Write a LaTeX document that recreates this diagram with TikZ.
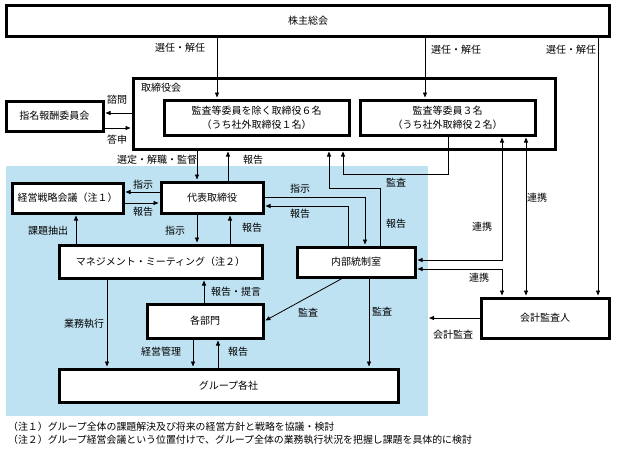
\documentclass[tikz,border=0pt]{standalone}
\usepackage{fontspec}
\newfontfamily\jp{Noto Sans CJK JP}
\usetikzlibrary{arrows.meta}
\definecolor{bgblue}{RGB}{190,226,242}
\begin{document}
\begin{tikzpicture}[x=1pt,y=-1pt,
  box/.style={draw, line width=3pt, fill=white, inner sep=0pt, font=\jp\fontsize{10}{14}\selectfont, align=center},
  lab/.style={inner sep=0pt, font=\jp\fontsize{10}{12}\selectfont},
  foot/.style={inner sep=0pt, anchor=west, font=\jp\fontsize{9.9}{11}\selectfont},
  conn/.style={line width=0.8pt},
  arr/.style={conn, -{Triangle[length=5pt,width=4pt]}, shorten >=1pt},
  darr/.style={conn, {Triangle[length=5pt,width=4pt]}-{Triangle[length=5pt,width=4pt]}, shorten >=1pt, shorten <=1pt},
]
\useasboundingbox (0,0) rectangle (618,451);
\fill[bgblue] (6,166) rectangle (428,416);

% boxes
\node[box, minimum width=603pt, minimum height=31pt] (kabu) at (308,21) {株主総会};
\node[box, minimum width=422pt, minimum height=71pt] (tori) at (344,113.5) {};
\node[lab] (ltori) at (161,88) {取締役会};
\node[box, minimum width=185pt, minimum height=35pt] (nozoku) at (256.5,117.5) {監査等委員を除く取締役６名\\（うち社外取締役１名）};
\node[box, minimum width=175pt, minimum height=35pt] (kansa3) at (447.5,117.5) {監査等委員３名\\（うち社外取締役２名）};
\node[box, minimum width=97pt, minimum height=30pt] (shimei) at (54.5,116) {指名報酬委員会};
\node[box, minimum width=111pt, minimum height=30pt] (senryaku) at (67.5,198) {経営戦略会議（注１）};
\node[box, minimum width=102pt, minimum height=31pt] (daihyo) at (212,197.5) {代表取締役};
\node[box, minimum width=203pt, minimum height=33pt] (mgmt) at (160.5,261.5) {マネジメント・ミーティング（注２）};
\node[box, minimum width=118pt, minimum height=30pt] (naibu) at (356,262) {内部統制室};
\node[box, minimum width=116pt, minimum height=34pt] (kakubu) at (205,321) {各部門};
\node[box, minimum width=339pt, minimum height=33pt] (group) at (228.5,385.5) {グループ各社};
\node[box, minimum width=128pt, minimum height=40pt] (kaikei) at (545,318) {会計監査人};

% guide coordinates
\coordinate (v1) at (217,0);
\coordinate (v2) at (425,0);
\coordinate (v3) at (598,0);
\coordinate (v4) at (197,0);
\coordinate (v5) at (228,0);
\coordinate (v7) at (230,0);
\coordinate (v8) at (76,0);
\coordinate (v9) at (365,0);
\coordinate (v10) at (348,0);
\coordinate (v11) at (380,0);
\coordinate (v12) at (329,0);
\coordinate (v13) at (448,0);
\coordinate (v14) at (343,0);
\coordinate (v15) at (502,0);
\coordinate (v16) at (526,0);
\coordinate (v17) at (342,0);
\coordinate (v18) at (369,0);
\coordinate (v19) at (204,0);
\coordinate (v20) at (107,0);
\coordinate (v21) at (193,0);
\coordinate (v22) at (218,0);
\coordinate (h1) at (0,113);
\coordinate (h2) at (0,128);
\coordinate (h3) at (0,192);
\coordinate (h4) at (0,203);
\coordinate (h5) at (0,197);
\coordinate (h6) at (0,206);
\coordinate (h7) at (0,188);
\coordinate (h8) at (0,174);
\coordinate (h9) at (0,260);
\coordinate (h10) at (0,269);
\coordinate (h11) at (0,318);
\coordinate (kend) at (428,318);

% connectors
\draw[arr] (kabu.south -| v1) -- (nozoku.north -| v1);
\draw[arr] (kabu.south -| v2) -- (kansa3.north -| v2);
\draw[arr] (kabu.south -| v3) -- (kaikei.north -| v3);
\draw[arr] (tori.west |- h1) -- (shimei.east |- h1);
\draw[arr] (shimei.east |- h2) -- (tori.west |- h2);
\draw[arr] (tori.south -| v4) -- (daihyo.north -| v4);
\draw[arr] (daihyo.north -| v5) -- (tori.south -| v5);
\draw[arr] (daihyo.west |- h3) -- (senryaku.east |- h3);
\draw[arr] (senryaku.east |- h4) -- (daihyo.west |- h4);
\draw[arr] (daihyo.south -| v4) -- (mgmt.north -| v4);
\draw[arr] (mgmt.north -| v7) -- (daihyo.south -| v7);
\draw[arr] (mgmt.north -| v8) -- (senryaku.south -| v8);
\draw[arr] (daihyo.east |- h5) -| (naibu.north -| v9);
\draw[arr] (naibu.north -| v10) |- (daihyo.east |- h6);
\draw[arr] (naibu.north -| v11) |- (v12 |- h7) -- (tori.south -| v12);
\draw[arr] (kansa3.south -| v13) |- (v14 |- h8) -- (tori.south -| v14);
\draw[darr] (kansa3.south -| v15) |- (naibu.east |- h9);
\draw[darr] (naibu.east |- h10) -| (kaikei.north -| v15);
\draw[darr] (kansa3.south -| v16) -- (kaikei.north -| v16);
\draw[arr] (kaikei.west |- h11) -- (kend);
\draw[arr] (naibu.south -| v17) -- (kakubu.east);
\draw[arr] (naibu.south -| v18) -- (group.north -| v18);
\draw[arr] (kakubu.north -| v19) -- (mgmt.south -| v19);
\draw[arr] (mgmt.south -| v20) -- (group.north -| v20);
\draw[arr] (kakubu.south -| v21) -- (group.north -| v21);
\draw[arr] (group.north -| v22) -- (kakubu.south -| v22);

% labels
\node[lab] (l1) at (180,48) {選任・解任};
\node[lab] (l2) at (456,50) {選任・解任};
\node[lab] (l3) at (571,50) {選任・解任};
\node[lab] (l4) at (117,100) {諮問};
\node[lab] (l5) at (117,140) {答申};
\node[lab] (l6) at (157,160) {選定・解職・監督};
\node[lab] (l7) at (253,160) {報告};
\node[lab] (l8) at (143,185) {指示};
\node[lab] (l9) at (143,212) {報告};
\node[lab] (l10) at (175,231) {指示};
\node[lab] (l11) at (252,228) {報告};
\node[lab] (l12) at (48,231) {課題抽出};
\node[lab] (l13) at (300,189) {指示};
\node[lab] (l14) at (300,214) {報告};
\node[lab] (l15) at (396,183) {監査};
\node[lab] (l16) at (396,224) {報告};
\node[lab] (l17) at (482,227) {連携};
\node[lab] (l18) at (479,278) {連携};
\node[lab] (l19) at (537,198) {連携};
\node[lab] (l20) at (453,335) {会計監査};
\node[lab] (l21) at (308,313) {監査};
\node[lab] (l22) at (382,312) {監査};
\node[lab] (l23) at (236,292) {報告・提言};
\node[lab] (l24) at (84,324) {業務執行};
\node[lab] (l25) at (161,352) {経営管理};
\node[lab] (l26) at (238,352) {報告};

% footnotes
\node[foot] (f1) at (8,427) {（注１）グループ全体の課題解決及び将来の経営方針と戦略を協議・検討};
\node[foot] (f2) at (8,440) {（注２）グループ経営会議という位置付けで、グループ全体の業務執行状況を把握し課題を具体的に検討};
\end{tikzpicture}
\end{document}
